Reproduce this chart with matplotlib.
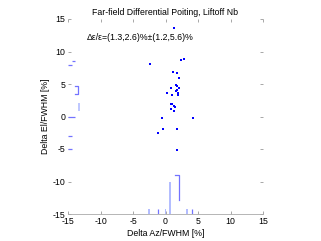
import matplotlib
matplotlib.use("Agg")
import matplotlib.pyplot as plt

plt.rcParams['font.family'] = ['Liberation Sans', 'DejaVu Sans']
plt.rcParams['axes.unicode_minus'] = False

# Scatter data (Delta Az, Delta El) in % of FWHM
az = [1.31, 2.85, 2.46, -2.43, 1.15, 1.82, 2.08, 1.69, 1.77, 0.80, 2.15, 1.57, 1.72,
      0.18, 1.97, 1.92, 1.05, 0.85, 1.05, 1.31, 1.42, 0.85, 1.26, -0.49, 4.23, -0.43,
      1.77, -1.11, 1.72]
el = [13.54, 8.92, 8.72, 8.05, 6.77, 6.62, 5.85, 4.88, 4.62, 4.46, 4.35, 3.95, 4.08,
      3.65, 3.66, 3.31, 3.28, 1.85, 1.85, 1.65, 1.43, 1.12, 0.77, -0.20, -0.26, -1.85,
      -1.85, -2.57, -5.23]

# Marginal histogram along the bottom (Az)
haz_light_x = [-2.5, 0.0, 0.7, 3.3]
haz_light_h = [0.8, 0.8, 4.9, 0.8]
haz_dark_x = [-1.2, 4.0]
haz_dark_h = [0.8, 0.8]
haz_step_x = [1.45, 2.0, 2.0]
haz_step_y = [-9.0, -9.0, -12.8]

# Marginal histogram along the left (El)
hel_dark_y = [0.0, 8.6, 8.0, -3.0, -5.0]
hel_dark_x0 = [-15.0, -14.43, -15.0, -15.0, -15.0]
hel_dark_x1 = [-14.0, -13.92, -14.43, -14.43, -14.43]
hel_bracket_x = [-13.9, -13.4, -13.4, -13.9]
hel_bracket_y = [4.7, 4.7, 3.4, 3.4]
hel_light_x = [-13.3]
hel_light_y0 = [0.8]
hel_light_y1 = [2.15]

title = "Far-field Differential Poiting, Liftoff Nb"
annot = "Δε/ε=(1.3,2.6)%±(1.2,5.6)%"
ticks = [-15, -10, -5, 0, 5, 10, 15]

fig = plt.figure(figsize=(3.21, 2.41), dpi=100)
ax = fig.add_axes([68/321, 27/241, 195/321, 195/241])

light = (0.70, 0.74, 1.0)
dark = (0.45, 0.45, 1.0)

ax.bar(haz_light_x, haz_light_h, bottom=-15, width=0.3, color=light, linewidth=0)
ax.vlines(haz_dark_x, -15, [-15 + h for h in haz_dark_h], color=dark, lw=0.9)
ax.plot(haz_step_x, haz_step_y, color=dark, lw=0.9)

ax.hlines(hel_dark_y, hel_dark_x0, hel_dark_x1, color=dark, lw=0.9)
ax.plot(hel_bracket_x, hel_bracket_y, color=dark, lw=0.9)
ax.vlines(hel_light_x, hel_light_y0, hel_light_y1, color=light, lw=1.2)

ax.plot(az, el, 's', color='blue', markersize=1.8, markeredgewidth=0)

ax.set_xlim(-15, 15)
ax.set_ylim(-15, 15)
ax.set_xticks(ticks)
ax.set_yticks(ticks)
ax.tick_params(direction='in', length=2, width=0.6, color='#999999', labelsize=6.3,
               top=True, right=True, pad=2)
for s in ['left', 'right', 'top']:
    ax.spines[s].set_visible(False)
ax.spines['bottom'].set_color('#aaaaaa')
ax.spines['bottom'].set_linewidth(0.6)

ax.set_title(title, fontsize=6.3, pad=3)
ax.set_xlabel("Delta Az/FWHM [%]", fontsize=6.3, labelpad=2)
ax.set_ylabel("Delta El/FWHM [%]", fontsize=6.3, labelpad=2)
ax.text(-12.1, 12.15, annot, fontsize=6.3, va='center', ha='left')

fig.savefig("out.png", dpi=100)
